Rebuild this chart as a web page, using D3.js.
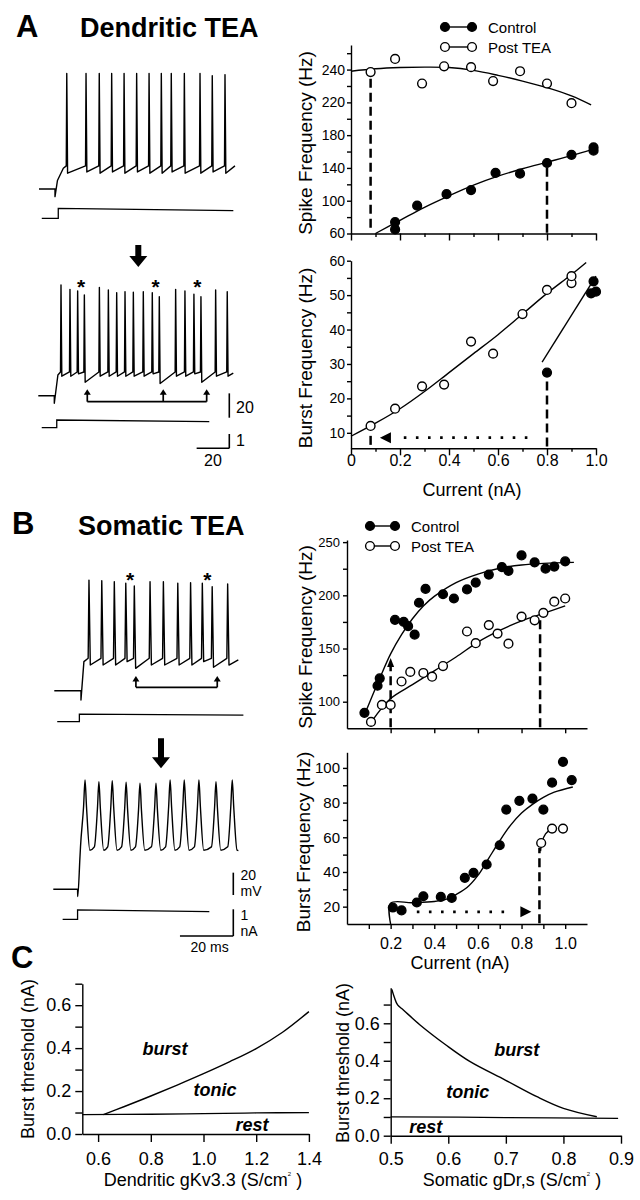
<!DOCTYPE html>
<html>
<head>
<meta charset="utf-8">
<script src="https://cdn.jsdelivr.net/npm/d3@7"></script>
<style>
  body { margin: 0; background: #fff; }
  svg { display: block; }
</style>
</head>
<body>
<div id="chart"></div>
<script>
const FONT = '"Liberation Sans", Arial, Helvetica, sans-serif';

// ---------- panel A : dendritic TEA ----------
const aSpikeCtl = [[0.18,74],[0.18,65],[0.27,94],[0.39,108],[0.49,113],[0.59,134],[0.69,133],[0.80,146],[0.90,156],[0.99,165],[0.99,161]];
const aSpikePost = [[0.08,257],[0.18,273],[0.29,243],[0.38,264],[0.49,263],[0.58,246],[0.69,258],[0.80,243],[0.90,219]];
const aSpikeCtlFit = [[0.1,60],[0.2,76],[0.3,92],[0.4,106],[0.5,119],[0.6,130],[0.7,139],[0.8,147],[0.9,155],[0.99,163]];
const aSpikePostFit = [[0,258],[0.1,261],[0.2,262.5],[0.3,263],[0.4,262.5],[0.5,259],[0.6,253],[0.7,246],[0.8,238],[0.9,228],[0.98,217]];
const aSpikeYTicks = [60,100,140,180,220,260];
const aSpikeYLabels = ["60","100","140","180","220","240"];
const aSpikeYMinor = [80,120,160,200,240,280];

const aBurstPost = [[0.08,12],[0.18,17],[0.29,23.5],[0.38,24],[0.49,36.5],[0.58,33],[0.70,44.5],[0.80,51.5],[0.90,53.5],[0.90,55.5]];
const aBurstCtl = [[0.80,27.5],[0.98,50.5],[1.0,51],[0.99,54]];
const aBurstPostFit = [[0,9],[0.1,12.8],[0.2,17],[0.3,22],[0.4,27.5],[0.5,33],[0.6,38.5],[0.7,44.5],[0.8,50.5],[0.9,56],[0.96,59.5]];
const aBurstCtlFit = [[0.78,30.5],[1.0,55.5]];
const aBurstYTicks = [10,20,30,40,50,60];
const aBurstYMinor = [15,25,35,45,55];

const aCurrentTicks = [0,0.2,0.4,0.6,0.8,1.0];
const aCurrentLabels = ["0","0.2","0.4","0.6","0.8","1.0"];
const aCurrentMinor = [0.1,0.3,0.5,0.7,0.9];

// voltage traces (ms, mV) and current steps (ms, nA)
const a1Sweep = { rest: -65, step: 9.8, dip: -71.3, onset: [[11.3,-58],[14.9,-48]], thr: -46, end: 120, endV: -46 };
const a1Spikes = [17,28.8,36.9,44.5,52.1,59.8,67.4,74.9,81,89,98.6,106.1,113.9];
const a1Peaks = [30,30,30,30,30,30,30,30,30,30,30,28,29];
const a1Troughs = [-52,-51,-52,-51,-52,-51,-52,-52,-51,-52,-52,-51,-52];
const a1Stim = [[1.7,0],[11.8,0],[11.8,0.7],[119,0.53]];

const a2Sweep = { rest: -65, step: 9.8, dip: -71.2, onset: [[12,-48]], thr: -45.5, end: 119.4, endV: -46.5 };
const a2Spikes = [13.9,19.4,24.1,28.2,37.4,42.9,48,53.1,58.2,64.3,69.8,74.1,84.1,89.8,95.3,99.6,108.6,115.7];
const a2Peaks = [26,22.4,21,17.7,24,21.9,19.6,20.5,20,20.5,19.6,16.3,22.4,21,18.3,16.3,21.9,20.5];
const a2Troughs = [-49,-49,-47,-54,-49,-49,-49,-49,-49,-49,-47,-55,-49,-49,-47,-54,-49,-49];
const a2Stim = [[2.1,0],[11.3,0],[11.3,0.54],[104.7,0.42]];
const a2Bursts = [26.2,71.9,97.4];
const a2Bracket = [30,76.5,103.1];

// ---------- panel B : somatic TEA ----------
const bSpikeCtl = [[0.08,89.5],[0.14,115],[0.15,122],[0.22,177],[0.26,175],[0.28,171],[0.31,163],[0.33,193],[0.36,206],[0.44,201],[0.49,197],[0.55,205.5],[0.59,212],[0.65,219.5],[0.71,226.5],[0.74,223],[0.80,237.5],[0.86,231],[0.91,225],[0.95,227],[1.0,232]];
const bSpikePost = [[0.11,81],[0.16,97],[0.20,97],[0.25,119],[0.29,128],[0.35,127],[0.39,123.5],[0.44,133.5],[0.55,166],[0.59,155],[0.65,172],[0.69,164],[0.74,154.5],[0.80,180],[0.86,176.5],[0.90,183.5],[0.95,194],[1.0,197]];
const bSpikeCtlFit = [[0.085,90],[0.15,122],[0.2,145],[0.25,163],[0.3,178],[0.35,190],[0.4,199],[0.5,212],[0.6,220],[0.7,225.5],[0.8,228.5],[0.9,230],[1.04,231]];
const bSpikePostFit = [[0.115,82],[0.2,103],[0.3,116],[0.4,129],[0.5,142],[0.6,156],[0.7,167],[0.8,176],[0.9,183],[1.0,190]];
const bSpikeYTicks = [100,150,200,250];
const bSpikeYMinor = [125,175,225];

const bBurstCtl = [[0.21,19.5],[0.25,17.8],[0.32,22.4],[0.35,26],[0.43,25.6],[0.48,25],[0.54,36.6],[0.58,39.5],[0.64,44.3],[0.70,55.4],[0.73,76],[0.79,81],[0.85,82.3],[0.90,76],[0.94,91.5],[0.99,103.5],[1.03,93]];
const bBurstPost = [[0.89,56.7],[0.94,65],[0.99,65]];
const bBurstCtlFit = [[0.2,10],[0.2,22],[0.3,22.3],[0.4,23],[0.46,24.5],[0.5,27],[0.55,31],[0.6,38],[0.65,48],[0.7,58],[0.75,67],[0.8,74],[0.85,79],[0.9,83],[0.95,86],[1.035,89]];
const bBurstPostFit = [[0.887,52],[0.893,57],[0.91,62],[0.94,65]];
const bBurstYTicks = [20,40,60,80,100];
const bBurstYMinor = [30,50,70,90];

const bCurrentTicks = [0.2,0.4,0.6,0.8,1.0];
const bCurrentLabels = ["0.2","0.4","0.6","0.8","1.0"];
const bCurrentMinor = [0.1,0.3,0.5,0.7,0.9];

const b1Sweep = { rest: -65, step: 10, dip: -73.3, onset: [[11.1,-39]], thr: -36, end: 69, endV: -37.5 };
const b1Spikes = [13,17.8,22.5,26.8,30,35.9,40.9,46.3,51.1,55.5,59.2,65];
const b1Peaks = [34,33.5,32.6,31.2,28.7,32.6,32.6,31.2,31.7,31.2,28.1,30.5];
const b1Troughs = [-42,-42,-42,-39,-45,-42,-42,-42,-42,-39,-44,-42];
const b1Stim = [[1.1,0],[9.4,0],[9.4,0.28],[70.9,0.25]];
const b1Bursts = [28.4,57.4];
const b1Bracket = [30.6,61.1];

const b2Sweep = { rest: -65, step: 9.1, dip: -71.6, onset: [[10,-36]], thr: -27, end: 69.4, endV: -30.4 };
const b2Spikes = [11.9,17.1,22.1,27.3,32.5,38.5,43.8,49.1,54.6,61,67.1];
const b2Peaks = [32.9,31.3,32.2,30.8,29.9,29.9,32.9,32.9,32.9,31.3,32.9];
const b2Troughs = [-30,-30,-30,-30,-30,-30,-30,-30,-30,-30,-30];
const b2Stim = [[3.5,0],[9.1,0],[9.1,0.35],[58.5,0.29]];

// ---------- panel C : model thresholds ----------
const cDendBurst = [[0.62,0.09],[0.7,0.128],[0.8,0.177],[0.9,0.228],[1.0,0.281],[1.1,0.337],[1.2,0.398],[1.3,0.474],[1.4,0.57]];
const cDendRest = [[0.54,0.09],[0.8,0.092],[1.0,0.095],[1.2,0.098],[1.4,0.1]];
const cSomaBurst = [[0.502,0.781],[0.506,0.742],[0.512,0.698],[0.522,0.671],[0.551,0.591],[0.596,0.484],[0.638,0.395],[0.699,0.297],[0.754,0.208],[0.80,0.146],[0.858,0.101]];
const cSomaRest = [[0.5,0.101],[0.7,0.097],[0.895,0.093]];
const cYTicks = [0,0.2,0.4,0.6];
const cYLabels = ["0.0","0.2","0.4","0.6"];
const cYMinor = [0.1,0.3,0.5,0.7];
const cDendXTicks = [0.6,0.8,1.0,1.2,1.4];
const cDendXLabels = ["0.6","0.8","1.0","1.2","1.4"];
const cSomaXTicks = [0.5,0.6,0.7,0.8,0.9];
const cSomaXLabels = ["0.5","0.6","0.7","0.8","0.9"];
const cDendRegions = [["burst",0.854,0.396],["tonic",1.044,0.205],["rest",1.184,0.042]];
const cSomaRegions = [["burst",0.719,0.458],["tonic",0.634,0.235],["rest",0.561,0.046]];

const svg = d3.select('#chart').append('svg')
  .attr('width', 640)
  .attr('height', 1200)
  .attr('font-family', FONT);

svg.append('rect').attr('width', 640).attr('height', 1200).attr('fill', '#fff');

function panel(o) {
  const x = d3.scaleLinear().domain(o.xDomain).range(o.xRange);
  const y = d3.scaleLinear().domain(o.yDomain).range(o.yRange);
  const g = svg.append('g');
  const left = o.xRange[0], bottom = o.yRange[0];

  const gy = g.append('g').attr('transform', `translate(${left},0)`)
    .call(d3.axisLeft(y).tickValues(o.yTicks).tickSize(o.yTick).tickSizeOuter(0)
      .tickPadding(o.yPad).tickFormat((d, i) => o.yLabels[i]));
  gy.attr('font-family', FONT).attr('font-size', o.yFont);
  if (o.yMinor) {
    g.append('g').attr('transform', `translate(${left},0)`)
      .call(d3.axisLeft(y).tickValues(o.yMinor).tickSize(o.yMinorTick).tickFormat(''))
      .call(s => s.select('.domain').remove());
  }
  const gx = g.append('g').attr('transform', `translate(0,${bottom})`)
    .call(d3.axisBottom(x).tickValues(o.xTicks).tickSize(o.xTick).tickSizeOuter(0)
      .tickPadding(o.xPad).tickFormat((d, i) => o.xLabels ? o.xLabels[i] : ''));
  gx.attr('font-family', FONT).attr('font-size', o.xFont || 14);
  if (o.xMinor) {
    g.append('g').attr('transform', `translate(0,${bottom})`)
      .call(d3.axisBottom(x).tickValues(o.xMinor).tickSize(o.xMinorTick).tickFormat(''))
      .call(s => s.select('.domain').remove());
  }
  g.selectAll('.domain, .tick line').attr('stroke', '#000').attr('stroke-width', 1.4);
  g.selectAll('.tick text').attr('fill', '#000');
  return { x, y, g };
}

function fit(p, data, w) {
  p.g.append('path')
    .datum(data)
    .attr('fill', 'none')
    .attr('stroke', '#000')
    .attr('stroke-width', w || 1.4)
    .attr('d', d3.line().x(d => p.x(d[0])).y(d => p.y(d[1])).curve(d3.curveCatmullRom.alpha(0.5)));
}

function dots(p, data, filled) {
  p.g.append('g').selectAll('circle')
    .data(data)
    .join('circle')
    .attr('cx', d => p.x(d[0]))
    .attr('cy', d => p.y(d[1]))
    .attr('r', 4.4)
    .attr('fill', filled ? '#000' : '#fff')
    .attr('stroke', '#000')
    .attr('stroke-width', 1.4);
}

function drop(p, x, y0, y1) {
  p.g.append('line')
    .attr('x1', p.x(x)).attr('x2', p.x(x))
    .attr('y1', p.y(y0)).attr('y2', p.y(y1))
    .attr('stroke', '#000')
    .attr('stroke-width', 2.5)
    .attr('stroke-dasharray', '9,5');
}

function dottedArrow(p, xFrom, xTo, yv) {
  const dir = xTo > xFrom ? 1 : -1;
  const tip = p.x(xTo), yy = p.y(yv);
  p.g.append('line')
    .attr('x1', p.x(xFrom)).attr('x2', tip - dir * 22)
    .attr('y1', yy).attr('y2', yy)
    .attr('stroke', '#000').attr('stroke-width', 2.6)
    .attr('stroke-dasharray', '2.6,9.5');
  p.g.append('path')
    .attr('d', `M${tip},${yy}L${tip - dir * 11},${yy - 5.5}L${tip - dir * 11},${yy + 5.5}Z`)
    .attr('fill', '#000');
}

function yTitle(txt, cx, cy, size) {
  svg.append('text')
    .attr('transform', `translate(${cx},${cy}) rotate(-90)`)
    .attr('text-anchor', 'middle')
    .attr('dy', '0.35em')
    .attr('font-size', size || 19)
    .text(txt);
}

function legend(x1, x2, y, filled, label) {
  svg.append('line').attr('x1', x1).attr('x2', x2).attr('y1', y).attr('y2', y)
    .attr('stroke', '#000').attr('stroke-width', 1.4);
  [x1, x2].forEach(cx => svg.append('circle').attr('cx', cx).attr('cy', y).attr('r', 4.4)
    .attr('fill', filled ? '#000' : '#fff').attr('stroke', '#000').attr('stroke-width', 1.4));
  svg.append('text').attr('x', x2 + 16).attr('y', y + 5.5).attr('font-size', 15).text(label);
}

// ---------- A top: spike frequency ----------
const pA1 = panel({
  xDomain: [0, 1], xRange: [351, 596], yDomain: [60, 290], yRange: [233.5, 45],
  yTicks: aSpikeYTicks, yLabels: aSpikeYLabels, yMinor: aSpikeYMinor, yTick: 4, yMinorTick: 4, yPad: 2, yFont: 14,
  xTicks: aCurrentTicks, xLabels: null, xMinor: aCurrentMinor, xTick: 7, xMinorTick: 3.5, xPad: 0
});
drop(pA1, 0.08, 67, 253);
drop(pA1, 0.8, 61, 143);
fit(pA1, aSpikeCtlFit);
fit(pA1, aSpikePostFit);
dots(pA1, aSpikePost, false);
dots(pA1, aSpikeCtl, true);
yTitle('Spike Frequency (Hz)', 305, 143);
legend(445, 472, 27, true, 'Control');
legend(445, 472, 47, false, 'Post TEA');

// ---------- A bottom: burst frequency ----------
const pA2 = panel({
  xDomain: [0, 1], xRange: [351, 596], yDomain: [5.5, 60], yRange: [448.3, 260.7],
  yTicks: aBurstYTicks, yLabels: aBurstYTicks.map(String), yMinor: aBurstYMinor, yTick: 4, yMinorTick: 4, yPad: 2, yFont: 14,
  xTicks: aCurrentTicks, xLabels: aCurrentLabels, xMinor: aCurrentMinor, xTick: 7, xMinorTick: 3.5, xPad: -1, xFont: 16
});
drop(pA2, 0.8, 6, 26);
drop(pA2, 0.08, 6.5, 10);
dottedArrow(pA2, 0.72, 0.118, 8.6);
fit(pA2, aBurstPostFit);
fit(pA2, aBurstCtlFit);
dots(pA2, aBurstPost, false);
dots(pA2, aBurstCtl, true);
yTitle('Burst Frequency (Hz)', 305, 358);
svg.append('text').attr('x', 472).attr('y', 496).attr('text-anchor', 'middle').attr('font-size', 18).text('Current (nA)');

// ---------- B top: spike frequency ----------
const pB1 = panel({
  xDomain: [0, 1.1], xRange: [347, 587], yDomain: [75, 252], yRange: [728.3, 540],
  yTicks: bSpikeYTicks, yLabels: bSpikeYTicks.map(String), yMinor: bSpikeYMinor, yTick: 4, yMinorTick: 4, yPad: 3, yFont: 13,
  xTicks: bCurrentTicks, xLabels: null, xTick: 5, xPad: 0
});
drop(pB1, 0.2, 76, 133);
pB1.g.append('path')
  .attr('d', `M${pB1.x(0.2)},${pB1.y(141)}l-3.5,9h7z`).attr('fill', '#000');
drop(pB1, 0.885, 76, 178);
fit(pB1, bSpikeCtlFit);
fit(pB1, bSpikePostFit);
dots(pB1, bSpikePost, false);
dots(pB1, bSpikeCtl, true);
yTitle('Spike Frequency (Hz)', 305, 637);
legend(370, 395, 526, true, 'Control');
legend(370, 395, 546, false, 'Post TEA');

// ---------- B bottom: burst frequency ----------
const pB2 = panel({
  xDomain: [0, 1.1], xRange: [347, 587], yDomain: [10, 109], yRange: [924, 752.3],
  yTicks: bBurstYTicks, yLabels: bBurstYTicks.map(String), yMinor: bBurstYMinor, yTick: 4, yMinorTick: 4, yPad: 3, yFont: 15,
  xTicks: bCurrentTicks, xLabels: bCurrentLabels, xMinor: bCurrentMinor, xTick: 5, xMinorTick: 5, xPad: 9, xFont: 16
});
drop(pB2, 0.882, 10.5, 54);
dottedArrow(pB2, 0.32, 0.845, 17);
fit(pB2, bBurstCtlFit);
fit(pB2, bBurstPostFit);
dots(pB2, bBurstCtl, true);
dots(pB2, bBurstPost, false);
yTitle('Burst Frequency (Hz)', 303, 842);
svg.append('text').attr('x', 460).attr('y', 969).attr('text-anchor', 'middle').attr('font-size', 18).text('Current (nA)');

// ---------- C ----------
const pC1 = panel({
  xDomain: [0.54, 1.4], xRange: [82.3, 308.9], yDomain: [0, 0.7], yRange: [1134, 983.7],
  yTicks: cYTicks, yLabels: cYLabels, yMinor: cYMinor, yTick: 7, yMinorTick: 7, yPad: 4, yFont: 18,
  xTicks: cDendXTicks, xLabels: cDendXLabels, xTick: 8, xPad: 10, xFont: 18
});
fit(pC1, cDendRest, 1.3);
fit(pC1, cDendBurst, 1.4);
const pC2 = panel({
  xDomain: [0.5, 0.9], xRange: [390.7, 621], yDomain: [0, 0.79], yRange: [1135.7, 987.7],
  yTicks: cYTicks, yLabels: cYLabels, yMinor: cYMinor, yTick: 7, yMinorTick: 7, yPad: 4, yFont: 18,
  xTicks: cSomaXTicks, xLabels: cSomaXLabels, xTick: 8, xPad: 9, xFont: 18
});
fit(pC2, cSomaRest, 1.3);
fit(pC2, cSomaBurst, 1.4);
[[pC1, cDendRegions], [pC2, cSomaRegions]].forEach(([p, regions]) => {
  p.g.selectAll('text.region').data(regions).join('text')
    .attr('class', 'region')
    .attr('x', d => p.x(d[1])).attr('y', d => p.y(d[2]) + 6)
    .attr('text-anchor', 'middle')
    .attr('font-size', 18).attr('font-weight', 'bold').attr('font-style', 'italic')
    .text(d => d[0]);
});
yTitle('Burst threshold (nA)', 28, 1059, 18);
yTitle('Burst threshold (nA)', 343, 1063, 18);
[['Dendritic gKv3.3 (S/cm', 203], ['Somatic gDr,s (S/cm', 512]].forEach(([t, cx]) => {
  const tx = svg.append('text').attr('x', cx).attr('y', 1186).attr('text-anchor', 'middle').attr('font-size', 18);
  tx.append('tspan').text(t);
  tx.append('tspan').attr('font-size', 6).attr('dy', -10).text('2');
  tx.append('tspan').attr('dy', 10).text(' )');
});

// ---------- voltage traces ----------
function traceScales(x0, msPx, y0, mvPx, yc0, naPx) {
  return {
    t: d3.scaleLinear().domain([0, 100]).range([x0, x0 + 100 * msPx]),
    v: d3.scaleLinear().domain([-65, 35]).range([y0, y0 - 100 * mvPx]),
    i: d3.scaleLinear().domain([0, 1]).range([yc0, yc0 - naPx])
  };
}

function sweepPoints(sw, spikes, peaks, troughs, broad) {
  const pts = [[0, sw.rest], [sw.step, sw.rest], [sw.step + (broad ? 0.05 : 0), sw.dip], ...sw.onset];
  spikes.forEach((t, i) => {
    if (broad) {
      pts.push([t - 1.7, sw.thr], [t - 0.55, peaks[i] - 24], [t, peaks[i]], [t + 0.55, peaks[i] - 24], [t + 1.8, troughs[i]]);
    } else {
      pts.push([t - 0.3, sw.thr], [t, peaks[i]], [t + 0.5, troughs[i]]);
    }
  });
  pts.push([sw.end, sw.endV]);
  return pts;
}

function drawSweep(s, pts, broad) {
  svg.append('path').datum(pts)
    .attr('fill', 'none').attr('stroke', '#000').attr('stroke-width', 1.4).attr('stroke-linejoin', 'round')
    .attr('d', d3.line().x(d => s.t(d[0])).y(d => s.v(d[1])).curve(broad ? d3.curveMonotoneX : d3.curveLinear));
}

function drawStim(s, pts) {
  svg.append('path').datum(pts)
    .attr('fill', 'none').attr('stroke', '#000').attr('stroke-width', 1.3)
    .attr('d', d3.line().x(d => s.t(d[0])).y(d => s.i(d[1])));
}

function stars(s, times, v) {
  svg.append('g').selectAll('text').data(times).join('text')
    .attr('x', d => s.t(d)).attr('y', s.v(v) + 11)
    .attr('text-anchor', 'middle').attr('font-size', 21).attr('font-weight', 'bold')
    .text('*');
}

function bracket(s, times, vTip, vBar) {
  const g = svg.append('g');
  const yb = s.v(vBar), yt = s.v(vTip);
  g.append('line').attr('x1', s.t(times[0])).attr('x2', s.t(times[times.length - 1]))
    .attr('y1', yb).attr('y2', yb).attr('stroke', '#000').attr('stroke-width', 1.7);
  times.forEach(t => {
    const x = s.t(t);
    g.append('line').attr('x1', x).attr('x2', x).attr('y1', yb).attr('y2', yt + 4)
      .attr('stroke', '#000').attr('stroke-width', 1.7);
    g.append('path').attr('d', `M${x},${yt}l-3.5,5.5h7z`).attr('fill', '#000');
  });
}

function bigArrow(x, y0, y1) {
  const head = 11, hw = 9, sw = 3;
  svg.append('path')
    .attr('d', `M${x - sw},${y0}H${x + sw}V${y1 - head}H${x + hw}L${x},${y1}L${x - hw},${y1 - head}H${x - sw}Z`)
    .attr('fill', '#000');
}

// A traces
const sA1 = traceScales(39, 1.633, 189, 1.217, 218.3, 14.3);
drawSweep(sA1, sweepPoints(a1Sweep, a1Spikes, a1Peaks, a1Troughs, false), false);
drawStim(sA1, a1Stim);

const sA2 = traceScales(38.3, 1.633, 395.7, 1.217, 427.7, 14.3);
drawSweep(sA2, sweepPoints(a2Sweep, a2Spikes, a2Peaks, a2Troughs, false), false);
drawStim(sA2, a2Stim);
stars(sA2, a2Bursts, 28);
bracket(sA2, a2Bracket, -59.7, -69.9);
bigArrow(138.3, 245, 267);

// A scale bars (20 mV, 1 nA, 20 ms)
{
  const cx = 229.3, cy = 448.3;
  const mv20 = sA2.v(-65) - sA2.v(-45), na1 = sA2.i(0) - sA2.i(1), ms20 = sA2.t(20) - sA2.t(0);
  const bar = (x1, y1, x2, y2) => svg.append('line').attr('x1', x1).attr('y1', y1).attr('x2', x2).attr('y2', y2)
    .attr('stroke', '#000').attr('stroke-width', 1.6);
  bar(cx, 417.7, cx, 417.7 - mv20);
  bar(cx, cy, cx, cy - na1);
  bar(cx - ms20, cy, cx, cy);
  const lab = (x, y, t, anchor) => svg.append('text').attr('x', x).attr('y', y).attr('font-size', 16)
    .attr('text-anchor', anchor || 'start').text(t);
  lab(236, 412.5, '20');
  lab(236, 446, '1');
  lab(cx - ms20 / 2, 465.5, '20', 'middle');
}

// B traces
const sB1 = traceScales(54.3, 2.667, 690.7, 1.117, 721.7, 26.7);
drawSweep(sB1, sweepPoints(b1Sweep, b1Spikes, b1Peaks, b1Troughs, false), false);
drawStim(sB1, b1Stim);
stars(sB1, b1Bursts, 38);
bracket(sB1, b1Bracket, -51.8, -62);

const sB2 = traceScales(53.3, 2.667, 889.3, 1.117, 919.3, 26.7);
drawSweep(sB2, sweepPoints(b2Sweep, b2Spikes, b2Peaks, b2Troughs, true), true);
drawStim(sB2, b2Stim);
bigArrow(161, 738.3, 768.3);

{
  const cx = 233.3, cy = 936;
  const mv20 = sB2.v(-65) - sB2.v(-45), na1 = sB2.i(0) - sB2.i(1), ms20 = sB2.t(20) - sB2.t(0);
  const bar = (x1, y1, x2, y2) => svg.append('line').attr('x1', x1).attr('y1', y1).attr('x2', x2).attr('y2', y2)
    .attr('stroke', '#000').attr('stroke-width', 1.6);
  bar(cx, 895, cx, 895 - mv20);
  bar(cx, cy, cx, cy - na1);
  bar(cx - ms20, cy, cx, cy);
  const lab = (x, y, t, anchor) => svg.append('text').attr('x', x).attr('y', y).attr('font-size', 14)
    .attr('text-anchor', anchor || 'start').text(t);
  lab(240.5, 880, '20');
  lab(240.5, 896, 'mV');
  lab(240.5, 920, '1');
  lab(240.5, 935.5, 'nA');
  lab(cx - ms20 / 2 + 3, 952, '20 ms', 'middle');
}

// ---------- panel letters and titles ----------
const heading = (x, y, t, size) => svg.append('text').attr('x', x).attr('y', y)
  .attr('font-size', size).attr('font-weight', 'bold').text(t);
heading(16, 36.7, 'A', 31);
heading(80, 36.7, 'Dendritic TEA', 27);
heading(12, 534, 'B', 31);
heading(78, 535, 'Somatic TEA', 27);
heading(11, 968, 'C', 31);
</script>
</body>
</html>
